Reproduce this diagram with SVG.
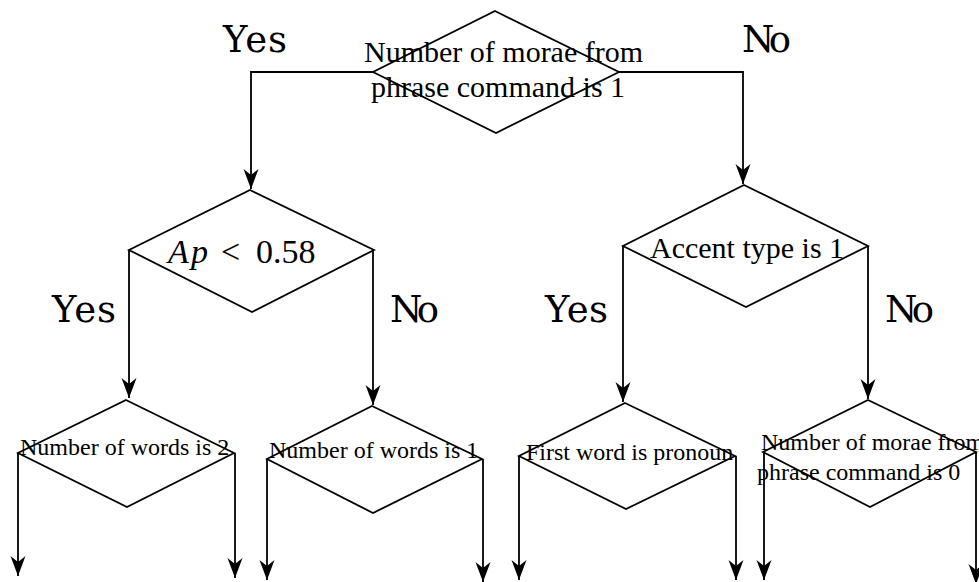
<svg xmlns="http://www.w3.org/2000/svg" width="979" height="582" viewBox="0 0 979 582">
  <style>
    .shape { fill: none; stroke: #000; stroke-width: 1.8; stroke-linejoin: miter; }
    .wire { fill: none; stroke: #000; stroke-width: 1.8; marker-end: url(#head); }
    .t { font-family: "Liberation Serif", "Times New Roman", serif; fill: #000; }
    .big { font-size: 30px; }
    .small { font-size: 24px; }
    .lbl { font-family: "DejaVu Serif", serif; font-size: 37px; fill: #000; }
  </style>
  <defs>
    <marker id="head" markerUnits="userSpaceOnUse" markerWidth="24" markerHeight="24" viewBox="-22 -9 24 18" refX="0" refY="0" orient="auto">
      <path d="M0,0 L-20,-7.5 L-14,0 L-20,7.5 Z" fill="#000"/>
    </marker>
  </defs>

  <g id="connectors">
    <path class="wire" d="M373,72 H251 V189"/>
    <path class="wire" d="M619,72 H743 V184"/>
    <path class="wire" d="M129,250 V398"/>
    <path class="wire" d="M373,250 V405"/>
    <path class="wire" d="M623,246 V402"/>
    <path class="wire" d="M868,246 V399"/>
    <path class="wire" d="M18,453 V576"/>
    <path class="wire" d="M235,453 V578"/>
    <path class="wire" d="M267,459 V580"/>
    <path class="wire" d="M483,459 V582"/>
    <path class="wire" d="M519,456 V580"/>
    <path class="wire" d="M736,456 V580"/>
    <path class="wire" d="M764,452 V580"/>
    <path class="wire" d="M976,452 V584"/>
  </g>

  <!-- branch labels -->
  <g id="labels">
    <text class="lbl" x="223" y="52" textLength="64">Yes</text>
    <text class="lbl" x="742" y="52" textLength="49">No</text>
    <text class="lbl" x="52" y="322" textLength="64">Yes</text>
    <text class="lbl" x="390" y="322" textLength="49">No</text>
    <text class="lbl" x="545" y="322" textLength="63">Yes</text>
    <text class="lbl" x="885" y="322" textLength="49">No</text>
  </g>

  <g id="morae-is-1">
    <polygon class="shape" points="495,11 619,72 496,133 373,72"/>
    <text class="t big" x="364" y="62">Number of morae from</text>
    <text class="t big" x="371" y="97">phrase command is 1</text>
  </g>

  <g id="ap-threshold">
    <polygon class="shape" points="250,190 374,250 252,312 129,250"/>
    <text class="t" y="263" font-size="34"><tspan x="168" font-style="italic">A</tspan><tspan x="191" font-style="italic">p</tspan><tspan x="221">&lt;</tspan><tspan x="256">0.58</tspan></text>
  </g>

  <g id="accent-type">
    <polygon class="shape" points="744,185 868,246 746,307 623,246"/>
    <text class="t big" x="650" y="258">Accent type is 1</text>
  </g>

  <g id="words-is-2">
    <polygon class="shape" points="126,400 234,453 127,507 18,453"/>
    <text class="t small" x="20" y="455">Number of words is 2</text>
  </g>

  <g id="words-is-1">
    <polygon class="shape" points="372,406 482,459 373,513 267,459"/>
    <text class="t small" x="269" y="458">Number of words is 1</text>
  </g>

  <g id="first-pronoun">
    <polygon class="shape" points="625,403 735,456 626,509 519,456"/>
    <text class="t small" x="526" y="460">First word is pronoun</text>
  </g>

  <g id="morae-is-0">
    <polygon class="shape" points="868,400 976,452 870,507 763,452"/>
    <text class="t small" x="761" y="450">Number of morae from</text>
    <text class="t small" x="757" y="480">phrase command is 0</text>
  </g>
</svg>
